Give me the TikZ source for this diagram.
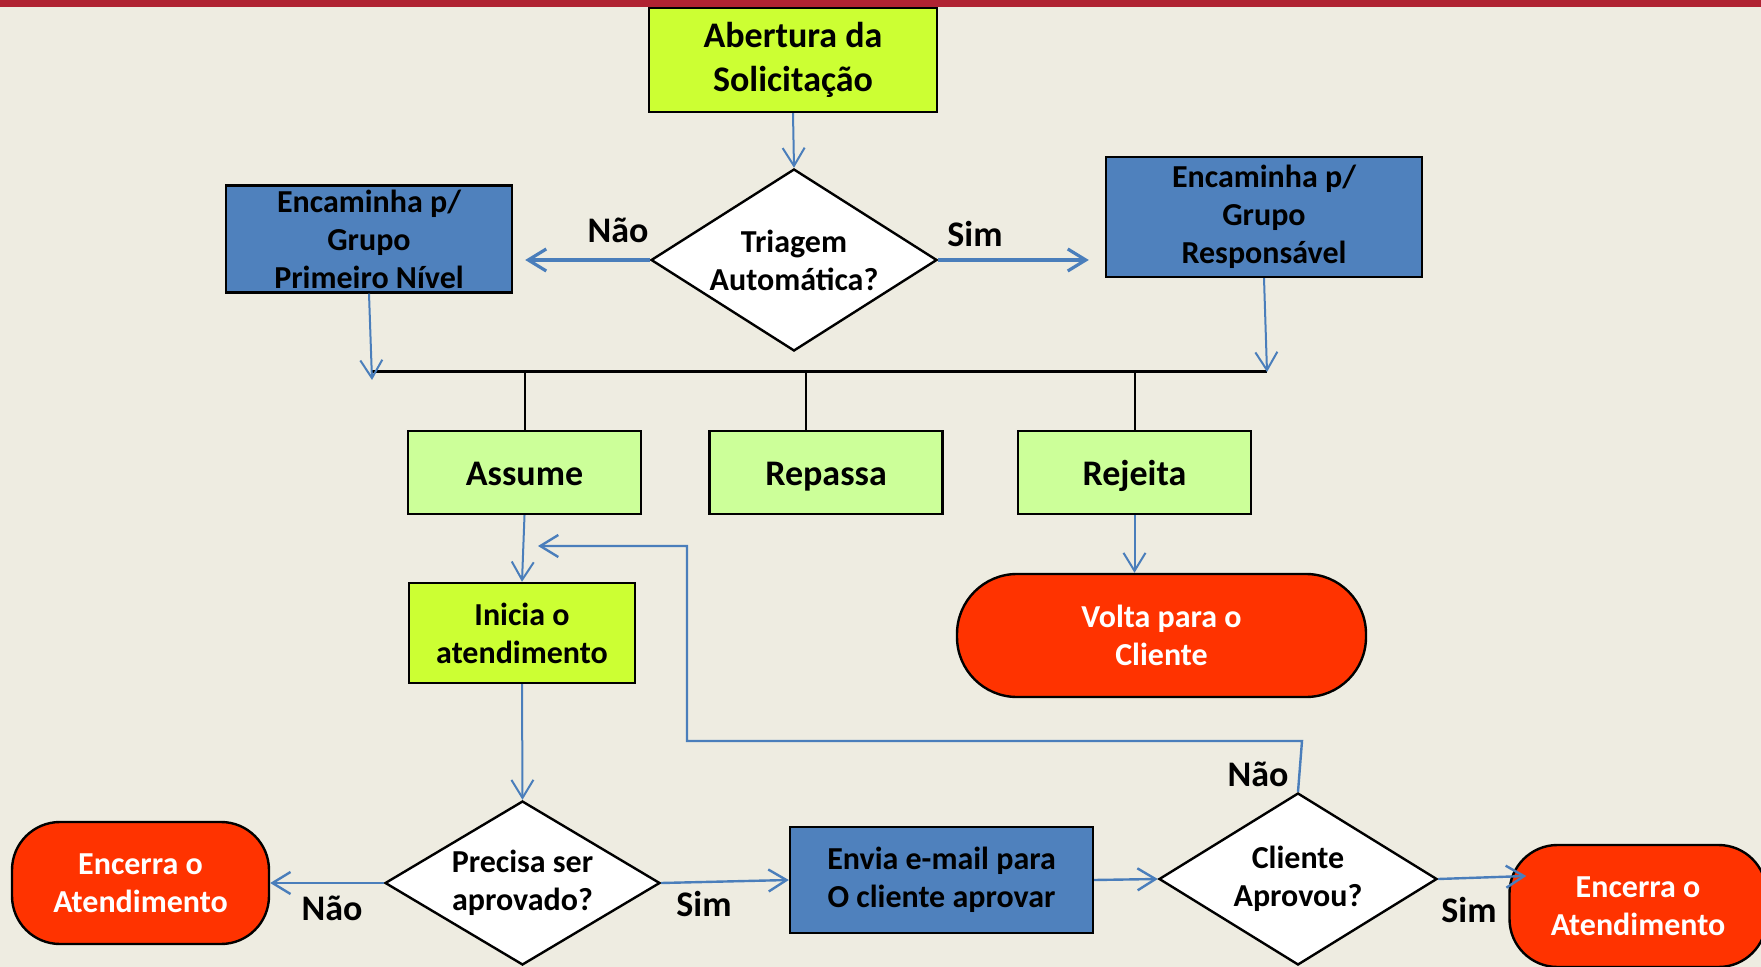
\documentclass[tikz,border=0pt]{standalone}
\usepackage{fontspec}
\setmainfont{Carlito}
\usepackage{tikz}
\usetikzlibrary{shapes.geometric, arrows.meta}
\definecolor{fundo}{RGB}{238,236,225}
\definecolor{faixa}{RGB}{176,35,50}
\definecolor{verdelima}{RGB}{204,255,51}
\definecolor{verdeclaro}{RGB}{204,255,153}
\definecolor{azul}{RGB}{79,129,189}
\definecolor{vermelho}{RGB}{255,51,0}
\definecolor{linha}{RGB}{74,126,187}
\tikzstyle{caixa} = [rectangle, draw=black, line width=1.2pt, align=center, inner sep=2pt, font=\fontsize{16}{19}\selectfont\bfseries]
\tikzstyle{acao} = [caixa, fill=verdeclaro, minimum width=116.5pt, minimum height=41.5pt, text height=14pt, text depth=1pt, font=\fontsize{18}{22}\selectfont\bfseries]
\tikzstyle{decisao} = [diamond, draw=black, line width=1.2pt, fill=white, align=center, inner sep=0pt, font=\fontsize{16}{19}\selectfont\bfseries]
\tikzstyle{fim} = [rectangle, rounded corners=24pt, draw=black, line width=1.2pt, fill=vermelho, text=white, align=center, font=\fontsize{16}{19}\selectfont\bfseries]
\tikzstyle{rotulo} = [font=\fontsize{18}{22}\selectfont\bfseries]
\tikzstyle{seta} = [color=linha, line width=1pt, -{Straight Barb[length=9pt,width=11pt]}]

\begin{document}
\begin{tikzpicture}[x=0.5pt, y=-0.5pt]
    \useasboundingbox (0,0) rectangle (1761,967);
    \clip (0,0) rectangle (1761,967);
    \fill[fundo] (0,0) rectangle (1761,967);
    \fill[faixa] (0,0) rectangle (1761,7);

    \node[caixa, fill=verdelima, minimum width=144pt, minimum height=52pt, font=\fontsize{18}{22}\selectfont\bfseries] (abertura) at (793,60) {Abertura da\\Solicitação};
    \node[decisao, aspect=1.57, minimum width=143pt, minimum height=91pt] (triagem) at (794,260) {Triagem\\Automática?};
    \node[caixa, fill=azul, minimum width=143pt, minimum height=53pt] (primeiro) at (369,239) {Encaminha p/\\Grupo\\Primeiro Nível};
    \node[caixa, fill=azul, minimum width=158pt, minimum height=60pt] (responsavel) at (1264,217) {Encaminha p/\\Grupo\\Responsável};

    \node[acao] (assume) at (524.5,472.5) {Assume};
    \node[acao] (repassa) at (826,472.5) {Repassa};
    \node[acao] (rejeita) at (1134.5,472.5) {Rejeita};

    \node[caixa, fill=verdelima, minimum width=113pt, minimum height=50pt] (inicia) at (522,633) {Inicia o\\atendimento};
    \node[fim, rounded corners=30pt, minimum width=204.5pt, minimum height=61.5pt] (volta) at (1161.5,635.5) {Volta para o\\Cliente};

    \node[decisao, aspect=1.68, minimum width=137.5pt, minimum height=82pt] (precisa) at (522.5,883) {Precisa ser\\aprovado?};
    \node[fim, minimum width=128.5pt, minimum height=61pt] (encerraA) at (140.5,883) {Encerra o\\Atendimento};
    \node[caixa, fill=azul, minimum width=151.5pt, minimum height=53pt] (envia) at (941.5,880) {Envia e-mail para\\O cliente aprovar};
    \node[decisao, aspect=1.62, minimum width=139pt, minimum height=86pt] (cliente) at (1298,879) {Cliente\\Aprovou?};
    \node[fim, minimum width=128.5pt, minimum height=61pt] (encerraB) at (1638,906) {Encerra o\\Atendimento};

    \node[rotulo] (naoA) at (618,230) {Não};
    \node[rotulo] (simA) at (975,234) {Sim};
    \node[rotulo] (naoB) at (332,908) {Não};
    \node[rotulo] (simB) at (704,904) {Sim};
    \node[rotulo] (naoC) at (1258,774) {Não};
    \node[rotulo] (simC) at (1469,910) {Sim};

    \coordinate (barraE) at (372,372);
    \coordinate (barraD) at (1267,372);
    \coordinate (repassaTopo) at (806,431);
    \coordinate (laco1) at (1302,741);
    \coordinate (laco2) at (687,741);
    \coordinate (laco3) at (687,546);
    \coordinate (laco4) at (538,546);

    \draw[line width=1.5pt] (barraE) -- (barraD);
    \draw[line width=1pt] (assume.north |- barraE) -- (assume.north);
    \draw[line width=1pt] (repassaTopo |- barraE) -- (repassaTopo);
    \draw[line width=1pt] (rejeita.north |- barraE) -- (rejeita.north);

    \path[seta] (abertura.south) edge (triagem.north);
    \path[seta, line width=1.6pt, shorten >=6pt] (triagem.west) edge (triagem.west -| primeiro.east);
    \path[seta, line width=1.6pt, shorten >=8pt] (triagem.east) edge (triagem.east -| responsavel.west);
    \path[seta] (primeiro.south) edge ([yshift=-4pt]barraE);
    \path[seta] (responsavel.south) edge (barraD);
    \path[seta] (assume.south) edge (inicia.north);
    \path[seta] (rejeita.south) edge (rejeita.south |- volta.north);
    \path[seta] (inicia.south) edge (precisa.north);
    \path[seta, line width=1.2pt] (precisa.west) edge (encerraA.east);
    \path[seta, line width=1.2pt] (precisa.east) edge (envia.west);
    \path[seta, line width=1.2pt] (envia.east) edge (cliente.west);
    \path[seta, line width=1.2pt] (cliente.east) edge ([xshift=9pt,yshift=15pt]encerraB.west);
    \draw[seta, line width=1.2pt] (cliente.north) -- (laco1) -- (laco2) -- (laco3) -- (laco4);

\end{tikzpicture}
\end{document}
